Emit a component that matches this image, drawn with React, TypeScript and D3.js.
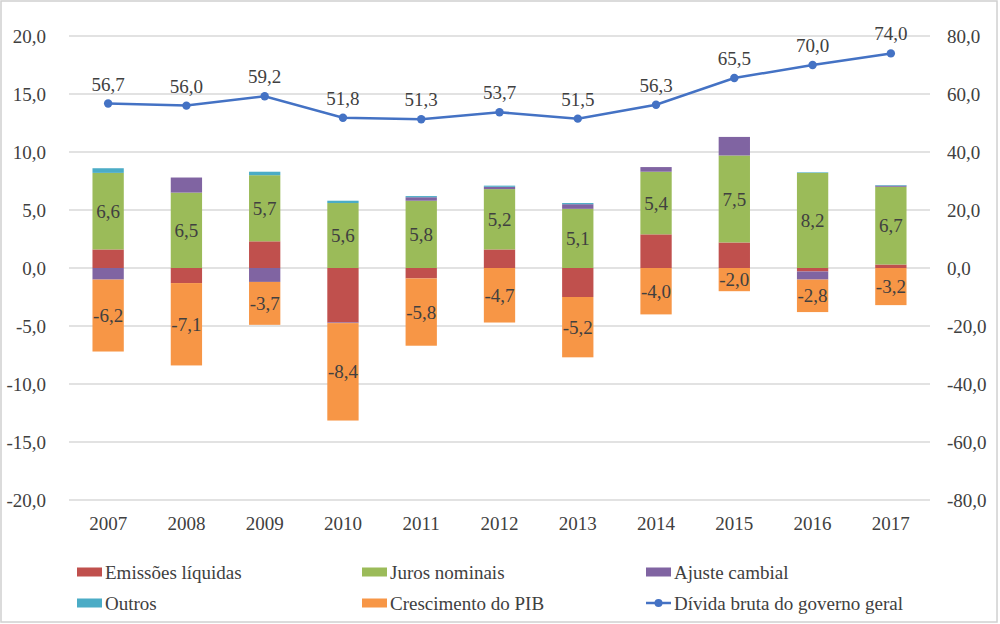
import * as d3 from "d3";
import { useEffect, useRef } from "react";

const years = ["2007", "2008", "2009", "2010", "2011", "2012", "2013", "2014", "2015", "2016", "2017"];

const emissoes = [1.6, -1.3, 2.3, -4.7, -0.9, 1.6, -2.5, 2.9, 2.2, -0.3, 0.3];
const juros = [6.6, 6.5, 5.7, 5.6, 5.8, 5.2, 5.1, 5.4, 7.5, 8.2, 6.7];
const ajuste = [-1.0, 1.3, -1.2, -0.05, 0.3, 0.2, 0.4, 0.4, 1.6, -0.7, 0.1];
const outros = [0.4, 0.0, 0.3, 0.2, 0.1, 0.1, 0.1, 0.0, 0.0, 0.05, 0.05];
const crescimento = [-6.2, -7.1, -3.7, -8.4, -5.8, -4.7, -5.2, -4.0, -2.0, -2.8, -3.2];
const divida = [56.7, 56.0, 59.2, 51.8, 51.3, 53.7, 51.5, 56.3, 65.5, 70.0, 74.0];

const leftTicks = [-20, -15, -10, -5, 0, 5, 10, 15, 20];
const rightTicks = [-80, -60, -40, -20, 0, 20, 40, 60, 80];

const series = [
  { key: "emissoes", name: "Emissões líquidas", color: "#C0504D", values: emissoes, label: false },
  { key: "juros", name: "Juros nominais", color: "#9BBB59", values: juros, label: true },
  { key: "ajuste", name: "Ajuste cambial", color: "#8064A2", values: ajuste, label: false },
  { key: "outros", name: "Outros", color: "#4BACC6", values: outros, label: false },
  { key: "crescimento", name: "Crescimento do PIB", color: "#F79646", values: crescimento, label: true },
];
const lineName = "Dívida bruta do governo geral";
const lineColor = "#4472C4";

const W = 1000;
const H = 624;
const plot = { left: 69, right: 930, top: 36, bottom: 500 };
const textColor = "#404040";
const font = "Liberation Serif";

const locale = d3.formatLocale({
  decimal: ",",
  thousands: ".",
  grouping: [3],
  currency: ["", ""],
  minus: "-",
});
const fmt = locale.format(".1f");

export default function App() {
  const ref = useRef<SVGSVGElement>(null);

  useEffect(() => {
    if (!ref.current) return;
    const svg = d3.select(ref.current);
    svg.selectAll("*").remove();

    const x = d3.scaleBand<string>().domain(years).range([plot.left, plot.right]).paddingInner(0.6).paddingOuter(0.3);
    const bw = x.step() * 0.4;
    const xc = (y: string) => (x(y) ?? 0) + x.bandwidth() / 2;
    const yL = d3.scaleLinear().domain([-20, 20]).range([plot.bottom, plot.top]);
    const yR = d3.scaleLinear().domain([-80, 80]).range([plot.bottom, plot.top]);

    const txt = (g: any) =>
      g.attr("font-family", font).attr("font-size", 19).attr("fill", textColor);

    // frame
    svg
      .append("rect")
      .attr("x", 1)
      .attr("y", 1)
      .attr("width", 996)
      .attr("height", 621)
      .attr("fill", "#fff")
      .attr("stroke", "#d0d0d0")
      .attr("stroke-width", 1.5);

    // grid
    svg
      .append("g")
      .selectAll("line")
      .data(leftTicks)
      .join("line")
      .attr("x1", plot.left)
      .attr("x2", plot.right)
      .attr("y1", (d) => yL(d))
      .attr("y2", (d) => yL(d))
      .attr("stroke", "#d9d9d9")
      .attr("stroke-width", 1.3);

    // axis labels
    svg
      .append("g")
      .call(txt)
      .attr("text-anchor", "end")
      .selectAll("text")
      .data(leftTicks)
      .join("text")
      .attr("x", 46)
      .attr("y", (d) => yL(d))
      .attr("dy", "0.35em")
      .text((d) => fmt(d));

    svg
      .append("g")
      .call(txt)
      .selectAll("text")
      .data(rightTicks)
      .join("text")
      .attr("x", 947)
      .attr("y", (d) => yR(d))
      .attr("dy", "0.35em")
      .text((d) => fmt(d));

    svg
      .append("g")
      .call(txt)
      .attr("text-anchor", "middle")
      .selectAll("text")
      .data(years)
      .join("text")
      .attr("x", (d) => xc(d))
      .attr("y", 530)
      .text((d) => d);

    // stacked bars
    const rows = years.map((yr, i) => {
      const r: Record<string, any> = { year: yr };
      series.forEach((s) => (r[s.key] = s.values[i]));
      return r;
    });
    const layers = d3
      .stack<Record<string, any>>()
      .keys(series.map((s) => s.key))
      .offset(d3.stackOffsetDiverging)
      .order(d3.stackOrderNone)(rows);

    layers.forEach((layer, li) => {
      svg
        .append("g")
        .attr("fill", series[li].color)
        .selectAll("rect")
        .data(layer)
        .join("rect")
        .attr("x", (_, i) => xc(years[i]) - bw / 2)
        .attr("y", (d) => yL(Math.max(d[0], d[1])))
        .attr("width", bw)
        .attr("height", (d) => Math.max(0, yL(Math.min(d[0], d[1])) - yL(Math.max(d[0], d[1]))));
    });

    // bar labels
    layers.forEach((layer, li) => {
      if (!series[li].label) return;
      svg
        .append("g")
        .call(txt)
        .attr("text-anchor", "middle")
        .selectAll("text")
        .data(layer)
        .join("text")
        .attr("x", (_, i) => xc(years[i]))
        .attr("y", (d) => yL((d[0] + d[1]) / 2))
        .attr("dy", "0.35em")
        .text((_, i) => fmt(series[li].values[i]));
    });

    // debt line
    const line = d3
      .line<number>()
      .x((_, i) => xc(years[i]))
      .y((d) => yR(d));

    svg
      .append("path")
      .attr("d", line(divida))
      .attr("fill", "none")
      .attr("stroke", lineColor)
      .attr("stroke-width", 2.5);

    svg
      .append("g")
      .selectAll("circle")
      .data(divida)
      .join("circle")
      .attr("cx", (_, i) => xc(years[i]))
      .attr("cy", (d) => yR(d))
      .attr("r", 4.2)
      .attr("fill", lineColor);

    svg
      .append("g")
      .call(txt)
      .attr("text-anchor", "middle")
      .selectAll("text")
      .data(divida)
      .join("text")
      .attr("x", (_, i) => xc(years[i]))
      .attr("y", (d) => yR(d) - 13)
      .text((d) => fmt(d));

    // legend
    const legendX = [77, 362, 646];
    const legendY = [572, 603];
    const items = [
      { s: series[0], col: 0, row: 0 },
      { s: series[1], col: 1, row: 0 },
      { s: series[2], col: 2, row: 0 },
      { s: series[3], col: 0, row: 1 },
      { s: series[4], col: 1, row: 1 },
    ];
    const lg = svg.append("g");
    items.forEach(({ s, col, row }) => {
      lg.append("rect")
        .attr("x", legendX[col])
        .attr("y", legendY[row] - 4.5)
        .attr("width", 25)
        .attr("height", 9)
        .attr("fill", s.color);
      lg.append("text")
        .call(txt)
        .attr("x", legendX[col] + 28)
        .attr("y", legendY[row])
        .attr("dy", "0.35em")
        .text(s.name);
    });
    lg.append("line")
      .attr("x1", legendX[2])
      .attr("x2", legendX[2] + 25)
      .attr("y1", legendY[1])
      .attr("y2", legendY[1])
      .attr("stroke", lineColor)
      .attr("stroke-width", 2.5);
    lg.append("circle")
      .attr("cx", legendX[2] + 12.5)
      .attr("cy", legendY[1])
      .attr("r", 4)
      .attr("fill", lineColor);
    lg.append("text")
      .call(txt)
      .attr("x", legendX[2] + 28)
      .attr("y", legendY[1])
      .attr("dy", "0.35em")
      .text(lineName);
  }, []);

  return (
    <svg
      ref={ref}
      width={W}
      height={H}
      style={{ position: "absolute", left: 0, top: 0, background: "#fff" }}
    />
  );
}
